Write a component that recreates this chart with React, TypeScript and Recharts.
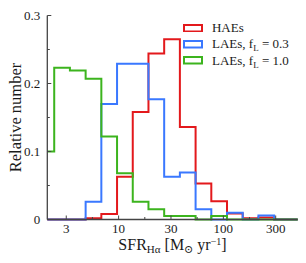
import { LineChart, Line, XAxis, YAxis, Legend } from "recharts";

// x is log10(SFR_Halpha); bin edges of the histograms
const binEdges = [0.235, 0.385, 0.535, 0.685, 0.835, 0.985, 1.135, 1.285, 1.435, 1.585, 1.735, 1.885, 2.035, 2.185, 2.335, 2.485, 2.635, 2.785];

const haes = [0, 0, 0, 0.002, 0.008, 0.063, 0.158, 0.244, 0.265, 0.136, 0.053, 0.027, 0.009, 0.002, 0.003, 0, 0];
const laesF03 = [0, 0, 0, 0.026, 0.17, 0.229, 0.229, 0.177, 0.063, 0.069, 0.015, 0, 0.01, 0, 0.006, 0, 0];
const laesF10 = [0.1, 0.223, 0.219, 0.207, 0.122, 0.068, 0.026, 0.015, 0.005, 0.005, 0, 0.005, 0, 0, 0, 0, 0];

const xDomain = [0.319, 2.71];
const xMajor = [0.5, 1, 1.5, 2, 2.5];
const xMajorLabels = ["3", "10", "30", "100", "300"];
const xMinor = [0.75, 1.25, 1.75, 2.25];

const yDomain = [0, 0.3];
const yMajor = [0, 0.1, 0.2, 0.3];
const yMajorLabels = ["0", "0.1", "0.2", "0.3"];
const yMinor = [0.05, 0.15, 0.25];

const SERIF = "'Liberation Serif', 'DejaVu Serif', serif";
const INK = "#1a1a1a";
const FRAME = "#444";

const xTicks = [...xMajor, ...xMinor].sort((a, b) => a - b);
const yTicks = [...yMajor, ...yMinor].sort((a, b) => a - b);

// step outline points, clamped to the visible x range
function toSteps(values: number[]) {
  const pts = binEdges.map((e, i) => ({
    x: Math.min(Math.max(e, xDomain[0]), xDomain[1]),
    y: i < values.length ? values[i] : values[values.length - 1],
  }));
  return pts.filter((p, i) => i === pts.length - 1 || p.x < pts[i + 1].x || binEdges[i] >= xDomain[0]);
}

const series = [
  { name: "HAEs", values: haes, color: "#e3191c" },
  { name: "LAEs, f_L = 0.3", values: laesF03, color: "#3a78ff" },
  { name: "LAEs, f_L = 1.0", values: laesF10, color: "#3cb41e" },
];

function BottomTick({ x, y, payload }: any) {
  const i = xMajor.indexOf(payload.value);
  return (
    <g>
      <line x1={x} y1={y} x2={x} y2={y - (i >= 0 ? 4 : 2.5)} stroke={FRAME} strokeWidth={1} />
      {i >= 0 && (
        <text x={x} y={y + 13} textAnchor="middle" fontSize={13} fontFamily={SERIF} fill={INK}>
          {xMajorLabels[i]}
        </text>
      )}
    </g>
  );
}

function TopTick({ x, y, payload }: any) {
  const major = xMajor.includes(payload.value);
  return <line x1={x} y1={y} x2={x} y2={y + (major ? 4 : 2.5)} stroke={FRAME} strokeWidth={1} />;
}

function LeftTick({ x, y, payload }: any) {
  const i = yMajor.indexOf(payload.value);
  return (
    <g>
      <line x1={x} y1={y} x2={x + (i >= 0 ? 4 : 2.5)} y2={y} stroke={FRAME} strokeWidth={1} />
      {i >= 0 && (
        <text x={x - 7} y={y + 4.5} textAnchor="end" fontSize={13} fontFamily={SERIF} fill={INK}>
          {yMajorLabels[i]}
        </text>
      )}
    </g>
  );
}

function RightTick({ x, y, payload }: any) {
  const major = yMajor.includes(payload.value);
  return <line x1={x} y1={y} x2={x - (major ? 4 : 2.5)} y2={y} stroke={FRAME} strokeWidth={1} />;
}

function YTitle(props: any) {
  const vb = props.viewBox ?? { x: 0, y: 15.5, width: 47, height: 204 };
  const cx = vb.x + 15;
  const cy = vb.y + vb.height / 2;
  return (
    <text x={cx} y={cy} transform={`rotate(-90, ${cx}, ${cy})`} textAnchor="middle" dominantBaseline="central"
      fontSize={16.5} fontFamily={SERIF} fill={INK}>
      Relative number
    </text>
  );
}

function XTitle(props: any) {
  const vb = props.viewBox ?? { x: 47, y: 219.5, width: 250, height: 43 };
  return (
    <text x={vb.x + vb.width / 2} y={vb.y + 30} textAnchor="middle" fontSize={16} fontFamily={SERIF} fill={INK}>
      SFR<tspan fontSize={11} dy={3.5}>Hα</tspan>
      <tspan dy={-3.5}> [M</tspan>
      <tspan fontSize={11} dy={3.5}>⊙</tspan>
      <tspan dy={-3.5}> yr</tspan>
      <tspan fontSize={10} dy={-5}>−1</tspan>
      <tspan dy={5}>]</tspan>
    </text>
  );
}

function seriesLabel(name: string) {
  const m = name.match(/^(.*)f_L(.*)$/);
  if (!m) return name;
  return (
    <>
      {m[1]}f<span style={{ fontSize: 9, position: "relative", top: 3 }}>L</span>{m[2]}
    </>
  );
}

function LegendBox({ payload }: any) {
  return (
    <div style={{ fontFamily: SERIF, fontSize: 13, color: INK }}>
      {(payload ?? []).map((e: any) => (
        <div key={e.value} style={{ display: "flex", alignItems: "center", height: 16.3, whiteSpace: "nowrap" }}>
          <svg width={20} height={8.5} style={{ marginRight: 8.7, display: "block" }}>
            <rect x={1} y={1} width={18} height={6.5} fill="none" stroke={e.color} strokeWidth={2} />
          </svg>
          <span>{seriesLabel(e.value)}</span>
        </div>
      ))}
    </div>
  );
}

export default function App() {
  return (
    <div style={{ position: "absolute", left: 0, top: 0, background: "#fff" }}>
      <LineChart width={306} height={263} margin={{ top: 15.5, right: 8.3, left: 0, bottom: 0 }}>
        <XAxis type="number" dataKey="x" domain={xDomain} ticks={xTicks} interval={0} height={43.5}
          tickSize={0} tickMargin={0} tick={<BottomTick />} axisLine={{ stroke: FRAME, strokeWidth: 1.3 }}
          label={XTitle} />
        <XAxis xAxisId="top" orientation="top" type="number" dataKey="x" domain={xDomain} ticks={xTicks}
          interval={0} height={0} tickSize={0} tickMargin={0} tick={<TopTick />}
          axisLine={{ stroke: FRAME, strokeWidth: 1.3 }} />
        <YAxis type="number" domain={yDomain} ticks={yTicks} interval={0} width={47.3} tickSize={0}
          tickMargin={0} tick={<LeftTick />} axisLine={{ stroke: FRAME, strokeWidth: 1.3 }} label={YTitle} />
        <YAxis yAxisId="right" orientation="right" type="number" domain={yDomain} ticks={yTicks} interval={0}
          width={0} tickSize={0} tickMargin={0} tick={<RightTick />} axisLine={{ stroke: FRAME, strokeWidth: 1.3 }} />
        {series.map((s) => (
          <Line key={s.name} name={s.name} data={toSteps(s.values)} dataKey="y" type="stepAfter"
            stroke={s.color} strokeWidth={2} dot={false} activeDot={false} isAnimationActive={false} />
        ))}
        <Legend layout="vertical" align="center" verticalAlign="middle" content={<LegendBox />}
          wrapperStyle={{ position: "absolute", left: 183.3, top: 20, width: "auto", height: "auto" }} />
      </LineChart>
    </div>
  );
}
